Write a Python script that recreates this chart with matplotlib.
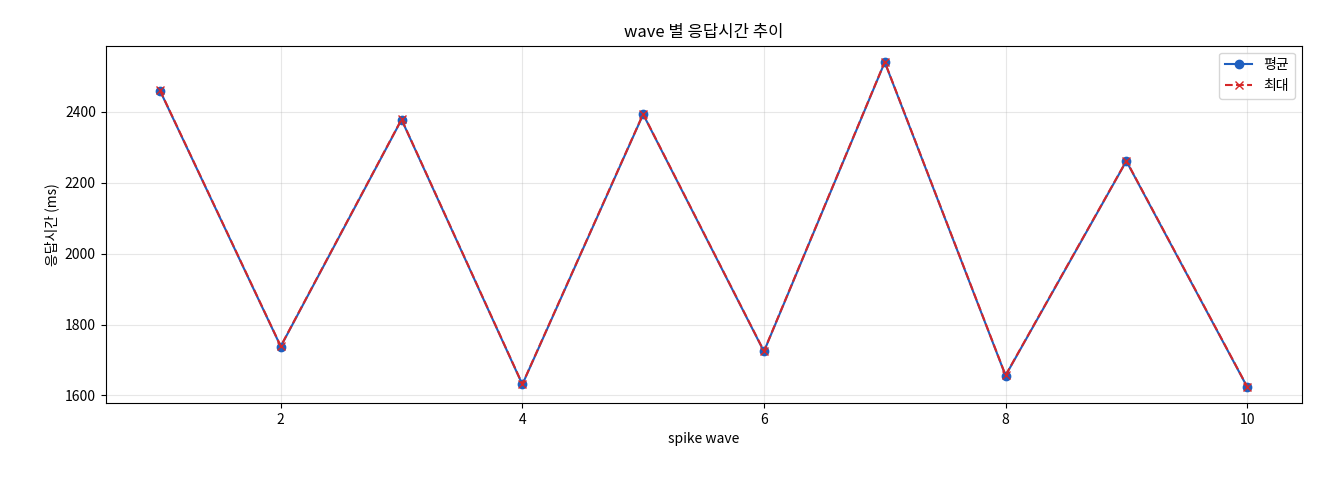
import matplotlib
matplotlib.use("Agg")
import matplotlib.pyplot as plt

plt.rcParams['font.family'] = ['Noto Sans CJK KR', 'DejaVu Sans']

waves = [1, 2, 3, 4, 5, 6, 7, 8, 9, 10]
avg_ms = [2460, 1738, 2378, 1631, 2393, 1724, 2540, 1656, 2261, 1624]
max_ms = [2461, 1739, 2379, 1632, 2394, 1725, 2541, 1657, 2262, 1625]

fig = plt.figure(figsize=(13.2, 4.8), dpi=100)
ax = fig.add_axes([0.08, 0.16, 0.906, 0.745])
ax.plot(waves, avg_ms, '-o', color='#1f5fbf', label='평균', markersize=6)
ax.plot(waves, max_ms, '--x', color='#d62728', label='최대', markersize=6)
ax.set_title('wave 별 응답시간 추이')
ax.set_xlabel('spike wave')
ax.set_ylabel('응답시간 (ms)')
ax.grid(True, alpha=0.3)
ax.legend(loc='upper right')
fig.savefig('out.png')
